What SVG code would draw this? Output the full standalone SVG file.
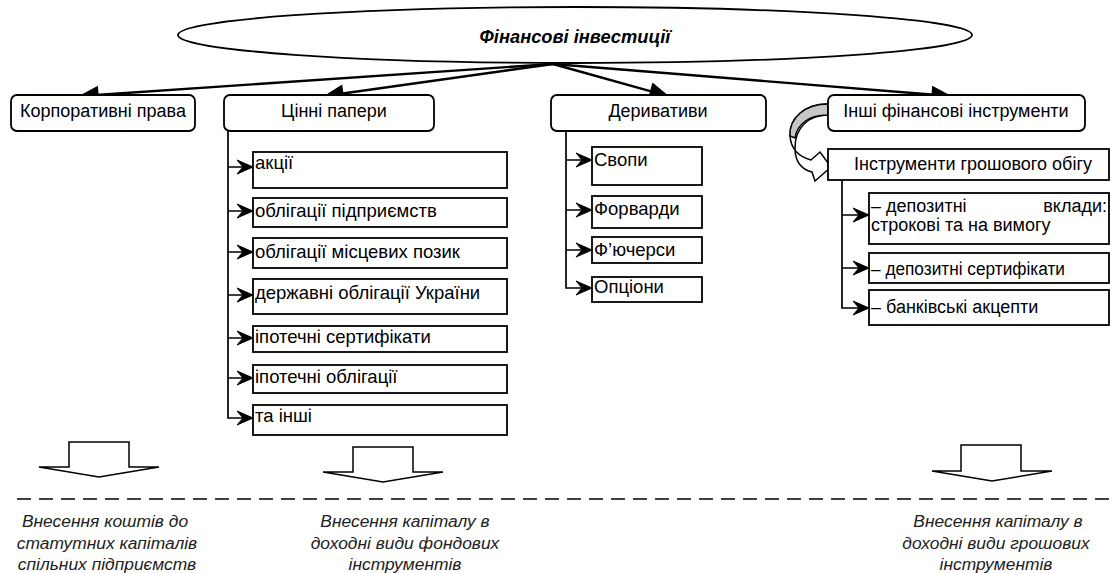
<svg xmlns="http://www.w3.org/2000/svg" width="1112" height="573" viewBox="0 0 1112 573">
<style>
text{font-family:"Liberation Sans",Arial,sans-serif;font-size:18px;fill:#000}
.c{text-anchor:middle}
.s{font-size:18.5px}
.it{font-style:italic;font-size:17.4px;fill:#222}
.rb{fill:#fff;stroke:#000;stroke-width:1.8}
.sb{fill:#fff;stroke:#000;stroke-width:1.8}
.ln{fill:none;stroke:#000;stroke-width:2.4}
.br{fill:none;stroke:#000;stroke-width:1.7}
.hd{fill:#000;stroke:#000;stroke-width:1.2;stroke-linejoin:miter}
.blk{fill:#fff;stroke:#000;stroke-width:1.5}
</style>
<defs>
<path id="sh" d="M-16,-7 L0,0 L-16,7 L-10,0 Z" fill="#000" stroke="#000" stroke-width="1"/>
</defs>

<g id="root">
<ellipse cx="575" cy="35" rx="397" ry="28" fill="#fff" stroke="#000" stroke-width="1.8"/>
<text x="575" y="43" class="c" style="font-weight:bold;font-style:italic;font-size:18.3px">Фінансові інвестиції</text>
</g>

<g id="connectors">
<line class="ln" x1="553" y1="64" x2="96" y2="95"/>
<polygon class="hd" points="80,96 97.4,86.8 98.5,102.8"/>
<line class="ln" x1="553" y1="64" x2="341" y2="93.7"/>
<polygon class="hd" points="325,96 341.7,85.6 343.9,101.4"/>
<line class="ln" x1="553" y1="64" x2="652" y2="91.6"/>
<polygon class="hd" points="668,96 648.5,98.9 652.8,83.5"/>
<line class="ln" x1="553" y1="64" x2="934" y2="94.7"/>
<polygon class="hd" points="950,96 931.4,102.5 932.7,86.6"/>

<path class="br" d="M228,131 V418 H243"/>
<path class="br" d="M228,167 H243 M228,211 H243 M228,252 H243 M228,295 H243 M228,338 H243 M228,378 H243"/>
<use href="#sh" x="253" y="167"/><use href="#sh" x="253" y="211"/><use href="#sh" x="253" y="252"/><use href="#sh" x="253" y="295"/><use href="#sh" x="253" y="338"/><use href="#sh" x="253" y="378"/><use href="#sh" x="253" y="418"/>

<path class="br" d="M566,131 V288 H582 M566,160 H582 M566,210 H582 M566,250 H582"/>
<use href="#sh" x="592" y="160"/><use href="#sh" x="592" y="210"/><use href="#sh" x="592" y="250"/><use href="#sh" x="592" y="288"/>

<path class="br" d="M842,180 V308 H859 M842,215 H859 M842,268 H859"/>
<use href="#sh" x="869" y="215"/><use href="#sh" x="869" y="268"/><use href="#sh" x="869" y="308"/>

<g id="curved-arrow">
<path d="M828,104 C805,104 789,118 790,136 C791,150 800,157 811,160 L820,152 L831,167 L815,181 L812,172 C800,169 795,160 795,148 C795,128 808,115 828,115 Z" fill="#fff" stroke="#000" stroke-width="1.5"/>
<path d="M828,104 C805,104 789,118 790,136 L795,138 C797,124 809,115 828,115 Z" fill="#c8c8c8" stroke="#000" stroke-width="1.5"/>
</g>
</g>

<g id="n-corp"><rect class="rb" x="11" y="95" width="184" height="36" rx="6"/><text x="103" y="117" class="c">Корпоративні права</text></g>
<g id="n-secur"><rect class="rb" x="224" y="95" width="210" height="36" rx="6"/><text x="334" y="117" class="c">Цінні папери</text></g>
<g id="n-deriv"><rect class="rb" x="551" y="95" width="215" height="36" rx="6"/><text x="658" y="117" class="c">Деривативи</text></g>
<g id="n-other"><rect class="rb" x="828" y="95" width="257" height="36" rx="6"/><text x="956" y="117" class="c">Інші фінансові інструменти</text></g>

<g id="s1"><rect class="sb" x="253" y="152" width="254" height="36"/><text class="s" x="255" y="169">акції</text></g>
<g id="s2"><rect class="sb" x="253" y="198" width="254" height="29"/><text class="s" x="255" y="217">облігації підприємств</text></g>
<g id="s3"><rect class="sb" x="253" y="238" width="254" height="30"/><text class="s" x="255" y="258">облігації місцевих позик</text></g>
<g id="s4"><rect class="sb" x="253" y="279" width="254" height="35"/><text class="s" x="255" y="299">державні облігації України</text></g>
<g id="s5"><rect class="sb" x="253" y="326" width="254" height="26"/><text class="s" x="255" y="343">іпотечні сертифікати</text></g>
<g id="s6"><rect class="sb" x="253" y="365" width="254" height="28"/><text class="s" x="255" y="383">іпотечні облігації</text></g>
<g id="s7"><rect class="sb" x="253" y="405" width="254" height="30"/><text class="s" x="255" y="422">та інші</text></g>

<g id="d1"><rect class="sb" x="592" y="147" width="110" height="38"/><text class="s" x="594" y="166">Свопи</text></g>
<g id="d2"><rect class="sb" x="592" y="196" width="110" height="32"/><text class="s" x="594" y="215">Форварди</text></g>
<g id="d3"><rect class="sb" x="592" y="237" width="110" height="26"/><text class="s" x="594" y="256">Ф’ючерси</text></g>
<g id="d4"><rect class="sb" x="592" y="277" width="110" height="25"/><text class="s" x="594" y="293">Опціони</text></g>

<g id="n-money"><rect class="sb" x="828" y="149" width="281" height="31"/><text x="973" y="170" class="c">Інструменти грошового обігу</text></g>
<g id="m1"><rect class="sb" x="869" y="193" width="240" height="51"/><text x="871" y="212">– депозитні</text><text x="1107" y="212" style="text-anchor:end">вклади:</text><text x="871" y="231">строкові та на вимогу</text></g>
<g id="m2"><rect class="sb" x="869" y="253" width="240" height="30"/><text x="871" y="275" textLength="194" lengthAdjust="spacingAndGlyphs">– депозитні сертифікати</text></g>
<g id="m3"><rect class="sb" x="869" y="290" width="240" height="35"/><text x="871" y="313">– банківські акцепти</text></g>

<g id="bottom">
<path class="blk" d="M69,442 H129 V467 L159,467 L99,477 L39,467 L69,467 Z"/>
<path class="blk" d="M353,447 H413 V472 L443,472 L383,482 L323,472 L353,472 Z"/>
<path class="blk" d="M961,445 H1021 V471 L1052,471 L992,481 L932,471 L961,471 Z"/>
<line x1="17" y1="499" x2="1110" y2="499" stroke="#000" stroke-width="1.4" stroke-dasharray="14 8"/>
<text class="it c" x="105" y="527">Внесення коштів до</text>
<text class="it c" x="107" y="549">статутних капіталів</text>
<text class="it c" x="107" y="570">спільних підприємств</text>
<text class="it c" x="405" y="527">Внесення капіталу в</text>
<text class="it c" x="405" y="549">доходні види фондових</text>
<text class="it c" x="405" y="570">інструментів</text>
<text class="it c" x="998" y="527">Внесення капіталу в</text>
<text class="it c" x="996" y="549">доходні види грошових</text>
<text class="it c" x="996" y="570">інструментів</text>
</g>
</svg>
